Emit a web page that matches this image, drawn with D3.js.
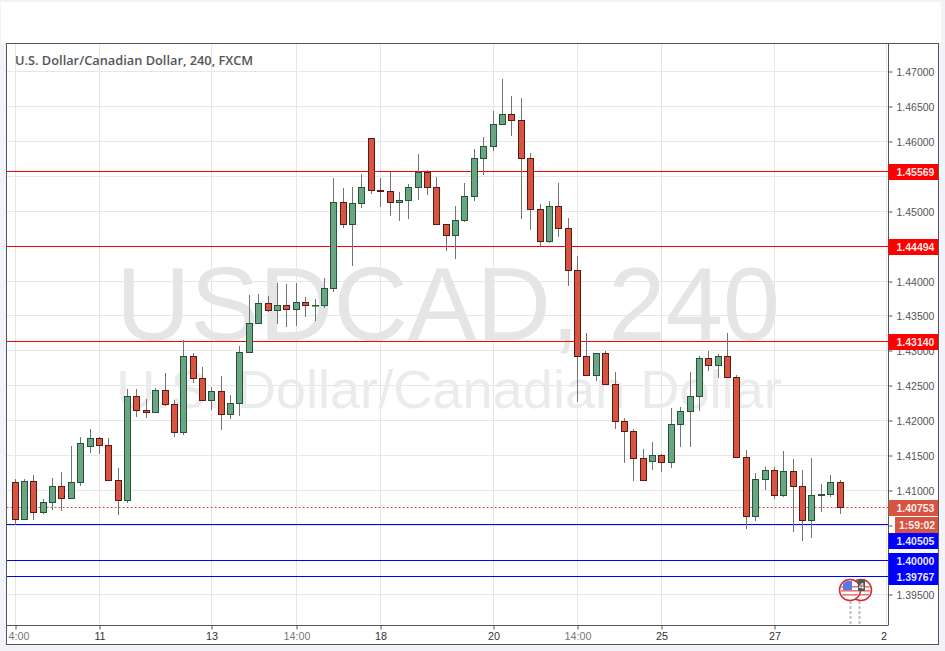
<!DOCTYPE html>
<html><head><meta charset="utf-8">
<script src="https://cdn.jsdelivr.net/npm/d3@7"></script>
<style>
html,body{margin:0;padding:0;background:#f2f3f8;overflow:hidden}
svg{display:block}
</style></head><body><div id="chart"></div>
<script>
const open=[1.41107,1.40576,1.41121,1.40676,1.40820,1.41049,1.40877,1.41107,1.41623,1.41738,1.41638,1.41135,1.40848,1.42341,1.42140,1.42111,1.42427,1.42226,1.41824,1.42915,1.42599,1.42284,1.42413,1.42083,1.42241,1.42972,1.43389,1.43676,1.43575,1.43647,1.43590,1.43690,1.43647,
1.43647,1.43891,1.45125,1.44809,1.45111,1.46044,1.45297,1.45283,1.45125,1.45154,1.45340,1.45556,1.45340,1.44809,1.44652,1.44867,1.45211,1.45757,1.45929,1.46245,1.46388,1.46302,1.45757,1.45025,1.44565,1.45068,1.44752,1.44149,
1.42915,1.42642,1.42958,1.42513,1.41982,1.41839,1.41451,1.41408,1.41494,1.41394,1.41939,1.42126,1.42341,1.42886,1.42786,1.42915,1.42614,1.41466,1.40619,1.41150,1.41279,1.40920,1.41265,1.41049,1.40561,1.40920,1.40935,1.41107];
const close=[1.40576,1.41121,1.40676,1.40820,1.41049,1.40877,1.41107,1.41666,1.41738,1.41638,1.41135,1.40848,1.42341,1.42140,1.42111,1.42427,1.42226,1.41824,1.42915,1.42599,1.42284,1.42413,1.42083,1.42241,1.42972,1.43389,1.43676,1.43575,1.43647,1.43590,1.43690,1.43647,1.43650,
1.43891,1.45125,1.44809,1.45111,1.45340,1.45297,1.45283,1.45125,1.45154,1.45340,1.45556,1.45340,1.44809,1.44652,1.44867,1.45211,1.45757,1.45929,1.46245,1.46388,1.46302,1.45757,1.45025,1.44565,1.45068,1.44752,1.44149,1.42915,
1.42642,1.42958,1.42513,1.41982,1.41839,1.41451,1.41136,1.41494,1.41394,1.41939,1.42126,1.42341,1.42886,1.42786,1.42915,1.42614,1.41466,1.40619,1.41150,1.41279,1.40920,1.41265,1.41049,1.40561,1.40920,1.40935,1.41107,1.40753];
const high=[1.41150,1.41150,1.41207,1.40863,1.41164,1.41250,1.41628,1.41753,1.41867,1.41753,1.41738,1.41308,1.42441,1.42441,1.42298,1.42456,1.42671,1.42284,1.43145,1.42958,1.42757,1.42470,1.42628,1.42355,1.43059,1.43795,1.43805,1.43781,1.43963,1.43948,1.43963,1.43762,1.43733,
1.44034,1.45470,1.45326,1.45340,1.45527,1.46044,1.45470,1.45565,1.45269,1.45384,1.45814,1.45589,1.45484,1.44809,1.45068,1.45398,1.45886,1.46058,1.46431,1.46890,1.46646,1.46618,1.45828,1.45096,1.45140,1.45398,1.44896,1.44350,
1.43245,1.42958,1.42987,1.42686,1.42025,1.41867,1.41580,1.41681,1.41509,1.42169,1.42183,1.42686,1.42915,1.42987,1.42944,1.43245,1.42642,1.41566,1.41236,1.41322,1.41322,1.41552,1.41437,1.41279,1.41451,1.41078,1.41207,1.41136];
const low=[1.40494,1.40576,1.40571,1.40657,1.40714,1.40700,1.40863,1.41059,1.41533,1.41518,1.41135,1.40643,1.40815,1.42049,1.42035,1.42097,1.42207,1.41762,1.41791,1.42537,1.42284,1.42150,1.41863,1.42020,1.42064,1.42972,1.43389,1.43556,1.43384,1.43341,1.43355,1.43484,1.43427,
1.43613,1.43843,1.44762,1.44216,1.45049,1.45250,1.45063,1.44934,1.44862,1.44891,1.45163,1.45235,1.44809,1.44432,1.44317,1.44848,1.45149,1.45522,1.45867,1.46245,1.46082,1.44891,1.44728,1.44503,1.44546,1.44632,1.43929,1.42265,
1.42642,1.42566,1.42513,1.41877,1.41389,1.41131,1.41136,1.41289,1.41260,1.41317,1.41619,1.41619,1.42135,1.42709,1.42609,1.42614,1.41466,1.40442,1.40557,1.41002,1.40872,1.40901,1.40399,1.40270,1.40313,1.40686,1.40901,1.40657];

const priceTicks=[1.395,1.40,1.405,1.41,1.415,1.42,1.425,1.43,1.435,1.44,1.445,1.45,1.455,1.46,1.465,1.47];
const hiddenPriceLabels=[1.40,1.405,1.445,1.455];
const dateTickIdx=[0,9,21,30,39,51,60,69,81,93];
const dateTickLabels=["4:00","11","13","14:00","18","20","14:00","25","27","2"];
const redLevels=[1.45569,1.44494,1.43140];
const blueLevels=[1.40505,1.40000,1.39767];
const blueTagMid=[541,561,577];
const lastPrice=1.40753;
const timerText="1:59:02";
const titleText="U.S. Dollar/Canadian Dollar, 240, FXCM";
const wmMain="USDCAD, 240";
const wmSub="U.S. Dollar/Canadian Dollar";

const W=945,H=651;
const frame={l:6.5,t:43.5,r:938.5,b:644.5,axisX:888.5,axisY:625};
const UP="#6ba583",UPB="#225437",DN="#d75442",DNB="#5b1a13",WICK="#737373",GRID="#e6e6e6",AX="#555555",TXT="#555555";

const svg=d3.select("#chart").append("svg").attr("width",W).attr("height",H);
svg.append("rect").attr("width",W).attr("height",H).attr("fill","#f2f3f8");
svg.append("rect").attr("x",1).attr("y",2).attr("width",940).attr("height",41).attr("fill","#fff");
svg.append("rect").attr("x",frame.l).attr("y",frame.t).attr("width",frame.r-frame.l).attr("height",frame.b-frame.t).attr("fill","#fff");

const y=d3.scaleLinear().domain([1.47,1.395]).range([71.5,594.5]);
const xs=d3.scaleLinear().domain([0,88]).range([15,840]);
const x=i=>Math.floor(xs(i))+0.5;
const py=v=>Math.floor(y(v)+0.4)+0.5;

svg.append("clipPath").attr("id","plot").append("rect").attr("x",frame.l).attr("y",frame.t).attr("width",frame.axisX-frame.l).attr("height",frame.axisY-frame.t);
const plot=svg.append("g").attr("clip-path","url(#plot)");

// grid
plot.selectAll(".gh").data(priceTicks).join("line").attr("x1",frame.l).attr("x2",frame.axisX).attr("y1",d=>py(d)).attr("y2",d=>py(d)).attr("stroke",GRID).attr("stroke-width",1);
plot.selectAll(".gv").data(dateTickIdx).join("line").attr("x1",d=>x(d)).attr("x2",d=>x(d)).attr("y1",frame.t).attr("y2",frame.axisY).attr("stroke",GRID).attr("stroke-width",1);

// watermark
const wm=plot.append("g").attr("font-family","'Liberation Sans',Arial,sans-serif").attr("text-anchor","middle");
wm.append("text").attr("x",448).attr("y",340).attr("font-size",103).attr("fill","#e5e5e5").text(wmMain);
wm.append("text").attr("x",449).attr("y",408).attr("font-size",54.2).attr("fill","#ebebeb").text(wmSub);

// levels
plot.selectAll(".red").data(redLevels).join("line").attr("x1",frame.l).attr("x2",frame.axisX).attr("y1",d=>py(d)).attr("y2",d=>py(d)).attr("stroke","#ff0000");
plot.selectAll(".blue").data(blueLevels).join("line").attr("x1",frame.l).attr("x2",frame.axisX).attr("y1",d=>py(d)).attr("y2",d=>py(d)).attr("stroke","#0000ff");
plot.append("line").attr("x1",frame.l).attr("x2",frame.axisX).attr("y1",py(lastPrice)).attr("y2",py(lastPrice)).attr("stroke",DN).attr("stroke-dasharray","2 2");

// candles
const idx=d3.range(open.length);
plot.selectAll(".wick").data(idx).join("line").attr("x1",x).attr("x2",x)
 .attr("y1",i=>Math.round(y(high[i]))).attr("y2",i=>Math.round(y(low[i])))
 .attr("stroke",WICK).attr("stroke-width",1);
plot.selectAll(".body").data(idx).join("rect")
 .attr("x",i=>x(i)-3).attr("width",6)
 .attr("y",i=>py(Math.max(open[i],close[i])))
 .attr("height",i=>Math.max(0.5,py(Math.min(open[i],close[i]))-py(Math.max(open[i],close[i]))))
 .attr("fill",i=>close[i]>=open[i]?UP:DN)
 .attr("stroke",i=>close[i]>=open[i]?UPB:DNB).attr("stroke-width",1);

// events
const evCircleX=[850,861],evLineX=[850.5,859.5];
const defs=svg.append("defs");
evCircleX.forEach((cx,k)=>{defs.append("clipPath").attr("id","c"+k).append("circle").attr("cx",cx).attr("cy",590).attr("r",9.5);});
const ev=plot.append("g");
evLineX.forEach(lx=>{ev.append("line").attr("x1",lx).attr("x2",lx).attr("y1",601).attr("y2",625).attr("stroke","#bdbdbd").attr("stroke-width",2).attr("stroke-dasharray","3 2");});
[1,0].forEach(k=>{
  const cx=evCircleX[k],g=ev.append("g");
  g.append("circle").attr("cx",cx).attr("cy",590).attr("r",10.5).attr("fill","#fff").attr("stroke","#d22b2b").attr("stroke-width",1.5);
  const f=g.append("g").attr("clip-path",`url(#c${k})`);
  [586,590,594].forEach(s=>f.append("rect").attr("x",cx-10).attr("y",s).attr("width",20).attr("height",1.6).attr("fill","#e27a7a"));
  f.append("rect").attr("x",cx-7).attr("y",581).attr("width",9).attr("height",9).attr("fill","#5a78e0");
});
ev.append("rect").attr("x",858).attr("y",579).attr("width",7).attr("height",12).attr("rx",1).attr("fill","#555");
ev.append("text").attr("x",861.5).attr("y",588.5).attr("text-anchor","middle").attr("font-family","'Liberation Sans',Arial,sans-serif").attr("font-size",9.5).attr("font-weight","bold").attr("fill","#ddd").text("4");

// frame + axes
svg.append("rect").attr("x",frame.l).attr("y",frame.t).attr("width",frame.r-frame.l).attr("height",frame.b-frame.t).attr("fill","none").attr("stroke",AX);
const font="'Liberation Sans',Arial,sans-serif";
const FS=10.5;
const yAxis=d3.axisRight(d3.scaleIdentity().domain([0,H]).range([0,H])).tickValues(priceTicks.map(py)).tickSize(4).tickFormat((d,i)=>hiddenPriceLabels.includes(priceTicks[i])?"":priceTicks[i].toFixed(5));
const gy=svg.append("g").attr("transform",`translate(${frame.axisX},0)`).call(yAxis);
gy.select(".domain").remove();
gy.selectAll("line").attr("stroke",AX).attr("x1",0).attr("x2",4);
gy.selectAll("text").attr("font-family",font).attr("font-size",FS).attr("fill",TXT).attr("x",8).attr("dy","0.36em");
svg.append("line").attr("x1",frame.axisX).attr("x2",frame.axisX).attr("y1",frame.t).attr("y2",frame.axisY).attr("stroke",AX);

const xAxis=d3.axisBottom(d3.scaleIdentity().domain([0,W]).range([0,W])).tickValues(dateTickIdx.map(x)).tickSize(4).tickFormat((d,i)=>dateTickLabels[i]);
const gx=svg.append("g").attr("transform",`translate(0,${frame.axisY+.5})`).call(xAxis);
gx.select(".domain").attr("stroke",AX).attr("d",`M${frame.l},0H${frame.axisX}`);
gx.selectAll("line").attr("stroke",AX);
gx.selectAll("text").attr("font-family",font).attr("font-size",10.8).attr("fill",(d,i)=>/:/.test(dateTickLabels[i])?"#777":"#333").attr("y",14).attr("dy",0)
 .attr("dx",(d,i)=>i===0?3:(i===dateTickIdx.length-1?-3:0));
gx.selectAll(".tick").filter((d,i)=>i===dateTickIdx.length-1).select("line").remove();

// tags
function tag(xl,mid,w,bg,t,xt){
  svg.append("rect").attr("x",xl).attr("y",mid-8).attr("width",w).attr("height",16).attr("fill",bg);
  svg.append("text").attr("x",xt).attr("y",mid).attr("dy","0.36em").attr("font-family",font).attr("font-size",FS).attr("font-weight","bold").attr("fill","#fff").attr("fill-opacity",.93).text(t);
}
redLevels.forEach(v=>tag(888.5,py(v)+.5,49.5,"#ff0000",v.toFixed(5),896.5));
tag(888.5,508,49.5,DN,lastPrice.toFixed(5),896.5);
tag(895,525,43,DN,timerText,899);
blueLevels.forEach((v,i)=>tag(888.5,blueTagMid[i],49.5,"#0000ff",v.toFixed(5),896.5));

svg.append("text").attr("x",15).attr("y",65).attr("font-family","'Open Sans',sans-serif").attr("font-size",12.8).attr("font-weight",600).attr("fill",TXT).text(titleText);
</script></body></html>
